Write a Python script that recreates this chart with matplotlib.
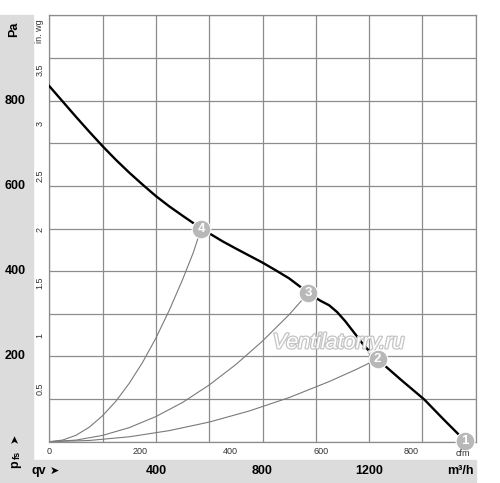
import matplotlib
matplotlib.use("Agg")
import matplotlib.pyplot as plt
import matplotlib.patheffects as pe
from matplotlib.patches import Rectangle
from matplotlib.transforms import blended_transform_factory

# fan curve, qv in m3/h vs static pressure in Pa
fan_q = [0, 50, 100, 150, 200, 250, 300, 350, 400, 450, 500, 570, 650, 700,
         800, 855, 900, 972, 1016, 1050, 1080, 1110, 1141, 1178, 1210, 1232,
         1320, 1407, 1480, 1560]
fan_p = [834, 798, 762, 727, 693, 661, 631, 603, 576, 552, 530, 500, 470, 453,
         420, 400, 383, 349, 331, 320, 304, 283, 258, 228, 206, 193,
         145, 99, 52, 2]

# system curves through the operating points
sys4_q = [0, 50, 100, 150, 200, 250, 300, 350, 400, 450, 500, 540, 570]
sys4_p = [0, 3.8, 15, 34, 61, 95, 137, 186, 243, 308, 380, 443, 500]
sys3_q = [0, 100, 200, 300, 400, 500, 600, 700, 800, 900, 972]
sys3_p = [0, 3.7, 14.8, 33, 59, 92, 133, 181, 236, 298, 349]
sys2_q = [0, 150, 300, 450, 600, 750, 900, 1050, 1150, 1232]
sys2_p = [0, 2.9, 11.5, 26, 46, 72, 103.5, 141, 169, 194]

# operating points
pt_labels = ["1", "2", "3", "4"]
pt_q = [1560, 1232, 972, 570]
pt_p = [2, 194, 349, 500]

pa_ticks = [200, 400, 600, 800]
inwg_ticks = ["0.5", "1", "1.5", "2", "2.5", "3", "3.5"]
cfm_ticks = [0, 200, 400, 600, 800]
qv_ticks = [400, 800, 1200]

PA_PER_INWG = 249.09
M3H_PER_CFM = 1.699

W, H = 500, 483
FONT = ["Liberation Sans", "DejaVu Sans"]
plt.rcParams["font.family"] = FONT

fig = plt.figure(figsize=(W / 100, H / 100), dpi=100)


def fx(x):
    return x / W


def fy(y):
    return 1 - y / H


# grey label bands (behind everything)
fig.patches.append(Rectangle((0, fy(483)), fx(33), fy(15) - fy(483),
                             transform=fig.transFigure, color="#dcdcdc", zorder=-10))
fig.patches.append(Rectangle((0, fy(482)), fx(476), fy(460) - fy(482),
                             transform=fig.transFigure, color="#dcdcdc", zorder=-10))

left, right, top, bottom = 49.3, 475.7, 15.3, 441.7
ax = fig.add_axes([fx(left), fy(bottom), (right - left) / W, (bottom - top) / H])
ax.set_xlim(0, 1600)
ax.set_ylim(0, 1000)
ax.set_xticks(range(0, 1601, 200))
ax.set_yticks(range(0, 1001, 100))
ax.grid(True, color="#8c8c8c", lw=0.9)
ax.tick_params(length=0, labelbottom=False, labelleft=False)
for s in ax.spines.values():
    s.set_color("#8c8c8c")
    s.set_linewidth(0.9)

gray = "#7a7a7a"
ax.plot(sys4_q, sys4_p, color=gray, lw=0.8)
ax.plot(sys3_q, sys3_p, color=gray, lw=0.8)
ax.plot(sys2_q, sys2_p, color=gray, lw=0.8)
ax.plot(fan_q, fan_p, color="black", lw=1.7, zorder=3, solid_joinstyle="round")

# watermark
ax.text(1085, 232, "Ventilatorry.ru", fontsize=15.5, style="italic",
        color="white", ha="center", va="center", zorder=4,
        path_effects=[pe.withStroke(linewidth=1.8, foreground="#c4c4c4")])

for lab, q, p in zip(pt_labels, pt_q, pt_p):
    ax.plot(q, p, "o", ms=13.5, color="#b8b8b8", mec="white", mew=0.8,
            zorder=5, clip_on=False)
    ax.text(q, p, lab, color="white", fontsize=9.5, fontweight="bold",
            ha="center", va="center", zorder=6)

# left axis labels (Pa, in. wg)
ty = blended_transform_factory(fig.transFigure, ax.transData)
for v in pa_ticks:
    ax.text(fx(15), v, str(v), transform=ty, fontsize=9, fontweight="bold",
            ha="center", va="center")
for v in inwg_ticks:
    ax.text(fx(40), float(v) * PA_PER_INWG, v, transform=ty, fontsize=6.5,
            rotation=90, ha="center", va="center", color="#333333")
fig.text(fx(14), fy(29), "Pa", fontsize=9, fontweight="bold", rotation=90,
         ha="center", va="center")
fig.text(fx(40), fy(31), "in. wg", fontsize=6.5, rotation=90,
         ha="center", va="center", color="#333333")

# bottom axis labels (cfm, m3/h)
tx = blended_transform_factory(ax.transData, fig.transFigure)
for v in cfm_ticks:
    ax.text(v * M3H_PER_CFM, fy(451), str(v), transform=tx, fontsize=6.5,
            ha="center", va="center", color="#333333")
fig.text(fx(463), fy(453), "cfm", fontsize=6.5, ha="center", va="center",
         color="#333333", zorder=0)
for v in qv_ticks:
    ax.text(v, fy(471), str(v), transform=tx, fontsize=9, fontweight="bold",
            ha="center", va="center")
fig.text(fx(474), fy(471), "m³/h", fontsize=9, fontweight="bold",
         ha="right", va="center")
fig.text(fx(31), fy(471), "qv", fontsize=9, fontweight="bold",
         ha="left", va="center")
fig.text(fx(50), fy(471), "➤", fontsize=8, ha="left", va="center",
         family=FONT)
fig.text(fx(15), fy(464), "p", fontsize=9, fontweight="bold", rotation=90,
         ha="center", va="center")
fig.text(fx(17), fy(455), "fs", fontsize=6.5, fontweight="bold", rotation=90,
         ha="center", va="center")
fig.text(fx(15), fy(438), "➤", fontsize=8, rotation=90, ha="center",
         va="center", family=FONT)

fig.savefig("out.png", dpi=100, facecolor="white")
